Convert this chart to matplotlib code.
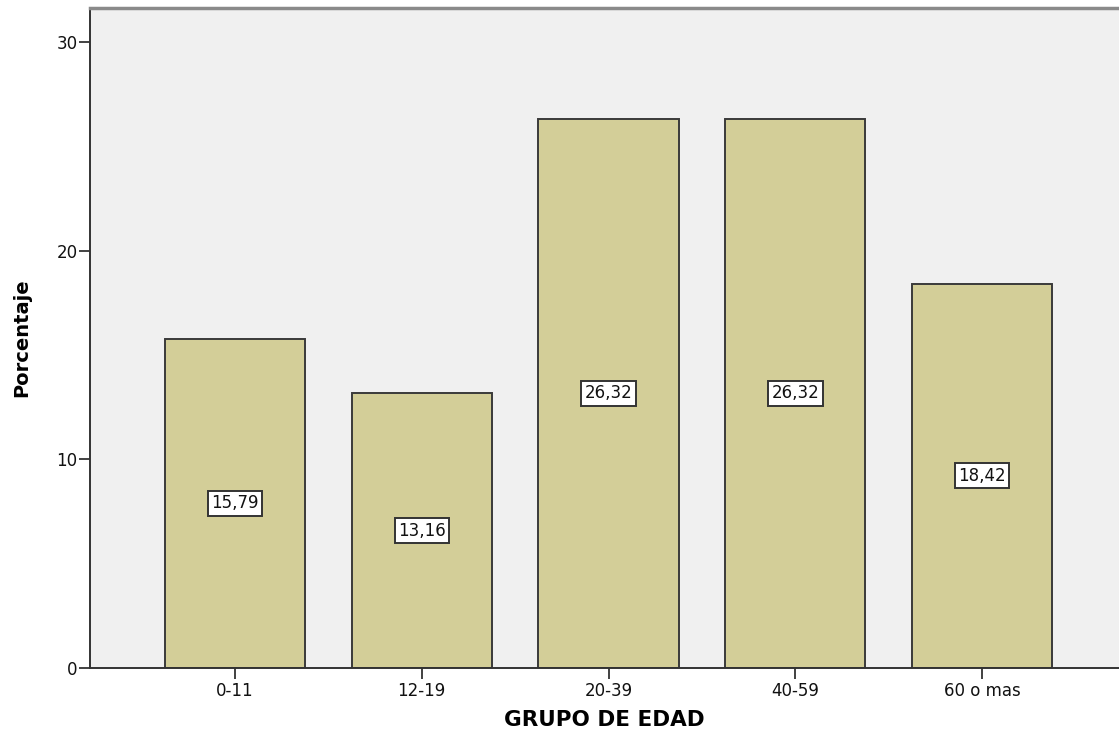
import matplotlib
matplotlib.use("Agg")
import matplotlib.pyplot as plt

categories = ["0-11", "12-19", "20-39", "40-59", "60 o mas"]
porcentajes = [15.79, 13.16, 26.32, 26.32, 18.42]
yticks = [0, 10, 20, 30]

plt.rcParams["font.family"] = ["DejaVu Sans"]

fig = plt.figure(figsize=(11.19, 7.42), dpi=100)
ax = fig.add_axes([90 / 1119, 74 / 742, 1 - 90 / 1119, 660 / 742])
ax.set_facecolor("#f0f0f0")

x = list(range(len(categories)))
ax.bar(x, porcentajes, width=0.75, color="#d3ce98", edgecolor="#3a3a3a",
       linewidth=1.4, zorder=2)

for xi, v in zip(x, porcentajes):
    ax.text(xi, v / 2, f"{v:.2f}".replace(".", ","), ha="center", va="center",
            fontsize=12, color="#111111", zorder=3,
            bbox=dict(boxstyle="square,pad=0.2", facecolor="white",
                      edgecolor="#333333", linewidth=1.4))

ax.set_xlim(-0.776, 4.733)
ax.set_ylim(0, 31.63)
ax.set_xticks(x)
ax.set_xticklabels(categories)
ax.set_yticks(yticks)
ax.tick_params(axis="both", labelsize=12, length=8, width=1.3,
               color="#333333", labelcolor="#111111")
ax.tick_params(axis="x", pad=2)
ax.tick_params(axis="y", pad=1)

for side in ("left", "bottom"):
    ax.spines[side].set_color("#333333")
    ax.spines[side].set_linewidth(1.4)
ax.spines["right"].set_visible(False)
ax.spines["top"].set_color("#8a8a8a")
ax.spines["top"].set_linewidth(2.5)

ax.set_xlabel("GRUPO DE EDAD", fontsize=15.5, fontweight="bold", labelpad=7)
ax.set_ylabel("Porcentaje", fontsize=14, fontweight="bold", labelpad=18)

fig.savefig("out.png", dpi=100, facecolor="white")
